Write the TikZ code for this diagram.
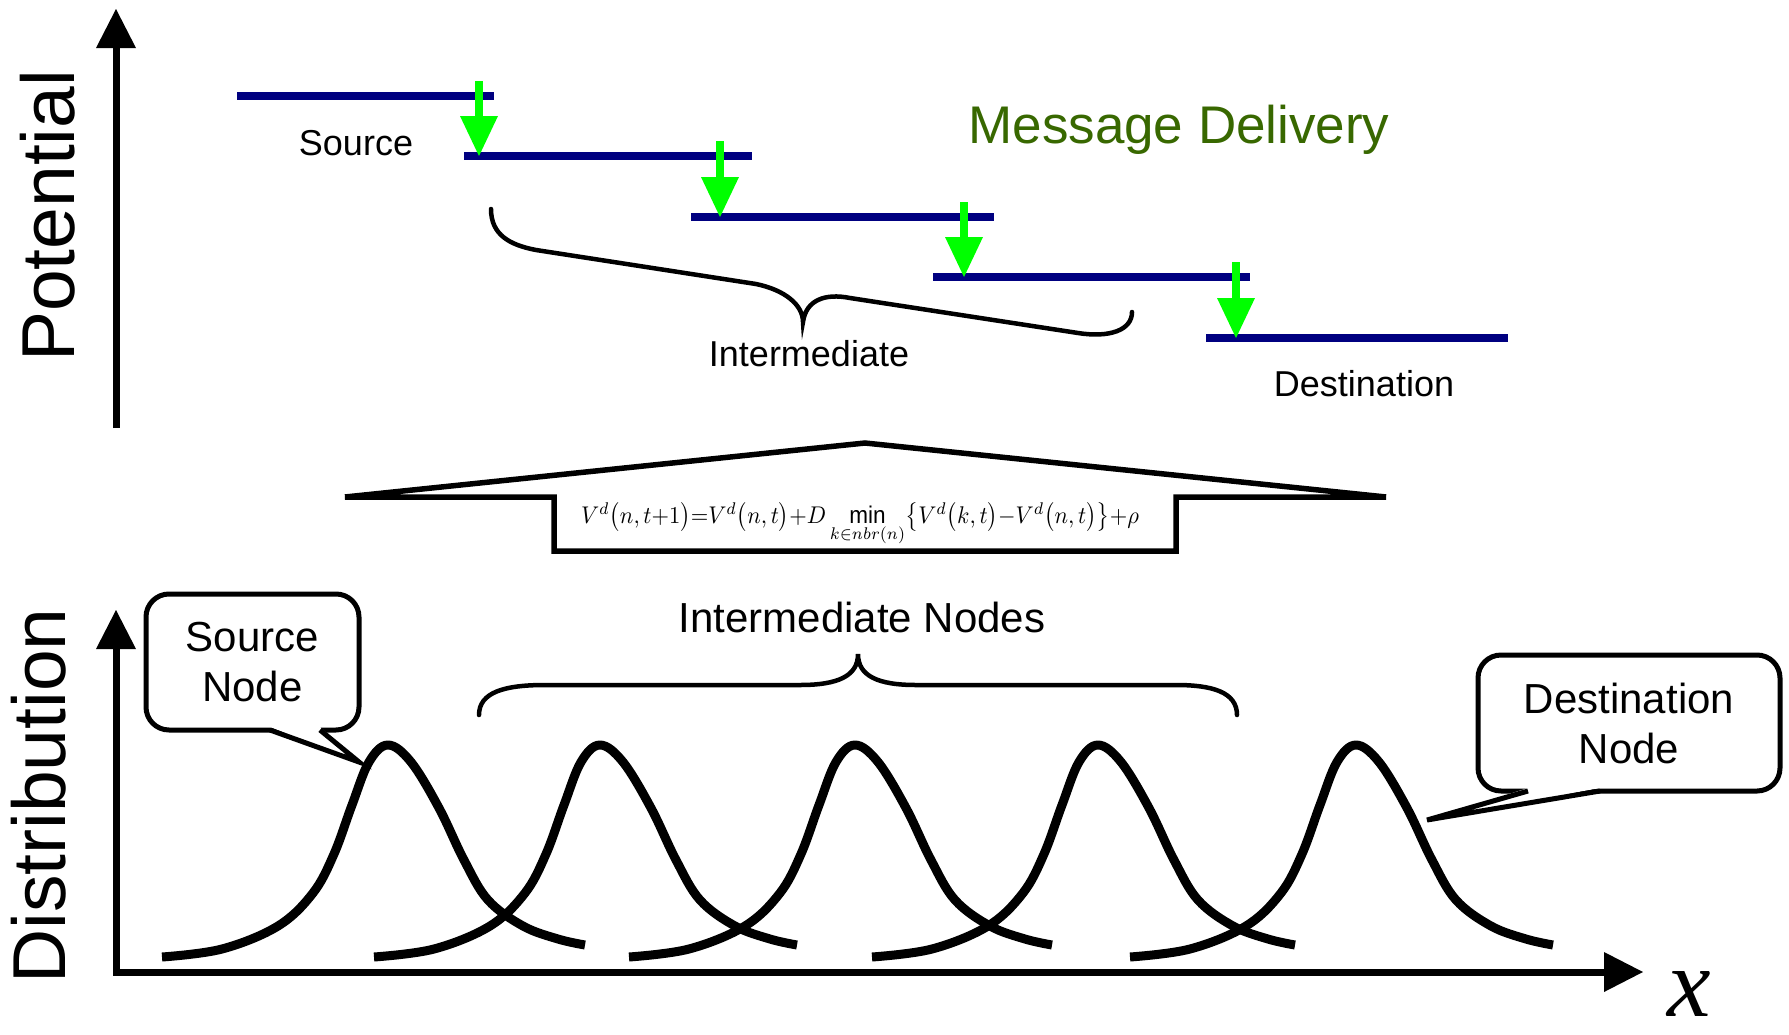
\documentclass[tikz,border=0pt]{standalone}
\usepackage{graphicx}
\usepackage{fontspec}
\setmainfont{Liberation Sans}
\newfontfamily\xserif{Liberation Serif}
\usetikzlibrary{arrows.meta,calc}
\definecolor{levelblue}{RGB}{0,0,128}
\definecolor{titlegreen}{RGB}{56,104,0}
\definecolor{dropgreen}{RGB}{0,255,0}
\begin{document}
\begin{tikzpicture}[x=1pt,y=-1pt,
  axisline/.style={line width=7pt, line join=miter},
  bighead/.tip={Triangle[width=40pt,length=39pt,line width=0pt]},
  levelline/.style={draw=levelblue, line width=7.5pt},
  drop/.style={draw=dropgreen, line width=8pt,
    -{Triangle[width=38pt,length=40pt,line width=0pt]}},
  bracestroke/.style={line width=4.5pt, line cap=round},
  bellline/.style={line width=9pt, line join=round},
  lab36/.style={font=\fontsize{36}{43}\selectfont, inner sep=0pt, anchor=base},
  lab42/.style={font=\fontsize{42}{50}\selectfont, inner sep=0pt},
  axislabel/.style={font=\fontsize{75}{80}\selectfont, inner sep=0pt, rotate=90},
  titlelab/.style={font=\fontsize{53}{60}\selectfont, text=titlegreen, inner sep=0pt, anchor=base},
  calloutbox/.style={draw, fill=white, line width=5pt, rounded corners=23pt,
    inner sep=0pt, align=center, font=\fontsize{42}{50}\selectfont},
  calloutline/.style={line width=5pt, line join=miter},
  roofline/.style={line width=5.5pt, line join=miter},
  bellshape/.pic={
    \draw[bellline] plot[smooth, tension=0.6] coordinates {
      (-226,212) (-166,204) (-110,181) (-75,148) (-54,109) (-36,60)
      (-19,17) (0,0) (23,17) (51,63) (76,115) (100,155) (135,181)
      (170,194) (197,200)};
  }
]
\fill[white] (0,0) rectangle (1789,1034);
\useasboundingbox (0,0) rectangle (1789,1034);

% ---------- potential axis ----------
\coordinate (ptop) at (116,9);
\coordinate (pbot) at (116,428);
\draw[axisline,-bighead] (pbot) -- (ptop);
\node[axislabel] (potlabel) at (48,216) {Potential};

% ---------- potential levels ----------
\draw[levelline] (237,96)  coordinate (l1a) -- (494,96)  coordinate (l1b);
\draw[levelline] (464,156) coordinate (l2a) -- (752,156) coordinate (l2b);
\draw[levelline] (691,217) coordinate (l3a) -- (994,217) coordinate (l3b);
\draw[levelline] (933,277) coordinate (l4a) -- (1250,277) coordinate (l4b);
\draw[levelline] (1206,338) coordinate (l5a) -- (1508,338) coordinate (l5b);

% ---------- drops between levels ----------
\coordinate (d1s) at (479,81);   \coordinate (d1e) at (479,156);
\coordinate (d2s) at (720,141);  \coordinate (d2e) at (720,217);
\coordinate (d3s) at (964,202);  \coordinate (d3e) at (964,277);
\coordinate (d4s) at (1236,262); \coordinate (d4e) at (1236,338);
\draw[drop] (d1s) -- (d1e);
\draw[drop] (d2s) -- (d2e);
\draw[drop] (d3s) -- (d3e);
\draw[drop] (d4s) -- (d4e);

\node[lab36] (srclab) at (356,155) {Source};
\node[lab36] (intlab) at (809,366) {Intermediate};
\node[lab36] (dstlab) at (1364,396) {Destination};
\node[titlelab] (title) at (1179,143) {Message Delivery};

% tilted brace over the intermediate levels
\draw[bracestroke] (491,209) .. controls (491,235) and (510,245) .. (536,250)
  -- (756,284) .. controls (785,290) and (803,305) .. (803,322)
  .. controls (806,300) and (825,293) .. (850,298)
  -- (1078,333) .. controls (1110,338) and (1132,330) .. (1132,312);

% ---------- update rule arrow ----------
\draw[roofline] (345,497) -- (865,443) -- (1386,497) -- (1176,497)
  -- (1176,551) -- (554,551) -- (554,497) -- cycle;
\node[inner sep=0pt] (eq) at (860,517) {\resizebox*{558pt}{29pt}{$V^d\bigl(n,t{+}1\bigr){=}V^d\bigl(n,t\bigr){+}D\mathop{\smash{\min\limits_{k\in nbr(n)}}}\bigl\{V^d\bigl(k,t\bigr){-}V^d\bigl(n,t\bigr)\bigr\}{+}\rho$}};

% ---------- distribution axes ----------
\coordinate (dtop) at (116,610);
\coordinate (origin) at (116,972);
\coordinate (xtip) at (1643,972);
\draw[axisline,bighead-bighead] (dtop) -- (origin) -- (xtip);
\node[axislabel] (distlabel) at (39,796) {Distribution};
\node[font=\xserif\itshape\fontsize{98}{98}\selectfont, inner sep=0pt, anchor=base] (xlabel) at (1689,1016) {x};

% ---------- node distributions ----------
\pic at (388,745) {bellshape};
\pic at (600,745) {bellshape};
\pic at (855,745) {bellshape};
\pic at (1098,745) {bellshape};
\pic at (1356,745) {bellshape};

% brace over the intermediate nodes
\draw[bracestroke] (479,715) .. controls (479,692) and (505,685) .. (545,685)
  -- (800,685) .. controls (838,685) and (858,676) .. (858,654)
  .. controls (858,676) and (878,685) .. (916,685)
  -- (1176,685) .. controls (1212,685) and (1237,692) .. (1237,715);
\node[lab42, anchor=base] (intnodes) at (862,632) {Intermediate Nodes};

% ---------- callouts ----------
\node[calloutbox, minimum width=213pt, minimum height=136pt] (srcbox) at (252.5,662) {Source\\Node};
\coordinate (srcA) at (270,730);
\coordinate (srcB) at (320,730);
\coordinate (srcTip) at (359,762);
\fill[white] ($(srcA)+(0,-3)$) -- (srcTip) -- ($(srcB)+(0,-3)$) -- cycle;
\draw[calloutline] (srcA) -- (srcTip) -- (srcB);

\node[calloutbox, minimum width=302pt, minimum height=136pt] (dstbox) at (1629,723) {Destination\\Node};
\coordinate (dstA) at (1528,791);
\coordinate (dstB) at (1600,791);
\coordinate (dstTip) at (1427,820);
\fill[white] ($(dstA)+(0,-3)$) -- (dstTip) -- ($(dstB)+(0,-3)$) -- cycle;
\draw[calloutline] (dstA) -- (dstTip) -- (dstB);
\end{tikzpicture}
\end{document}
